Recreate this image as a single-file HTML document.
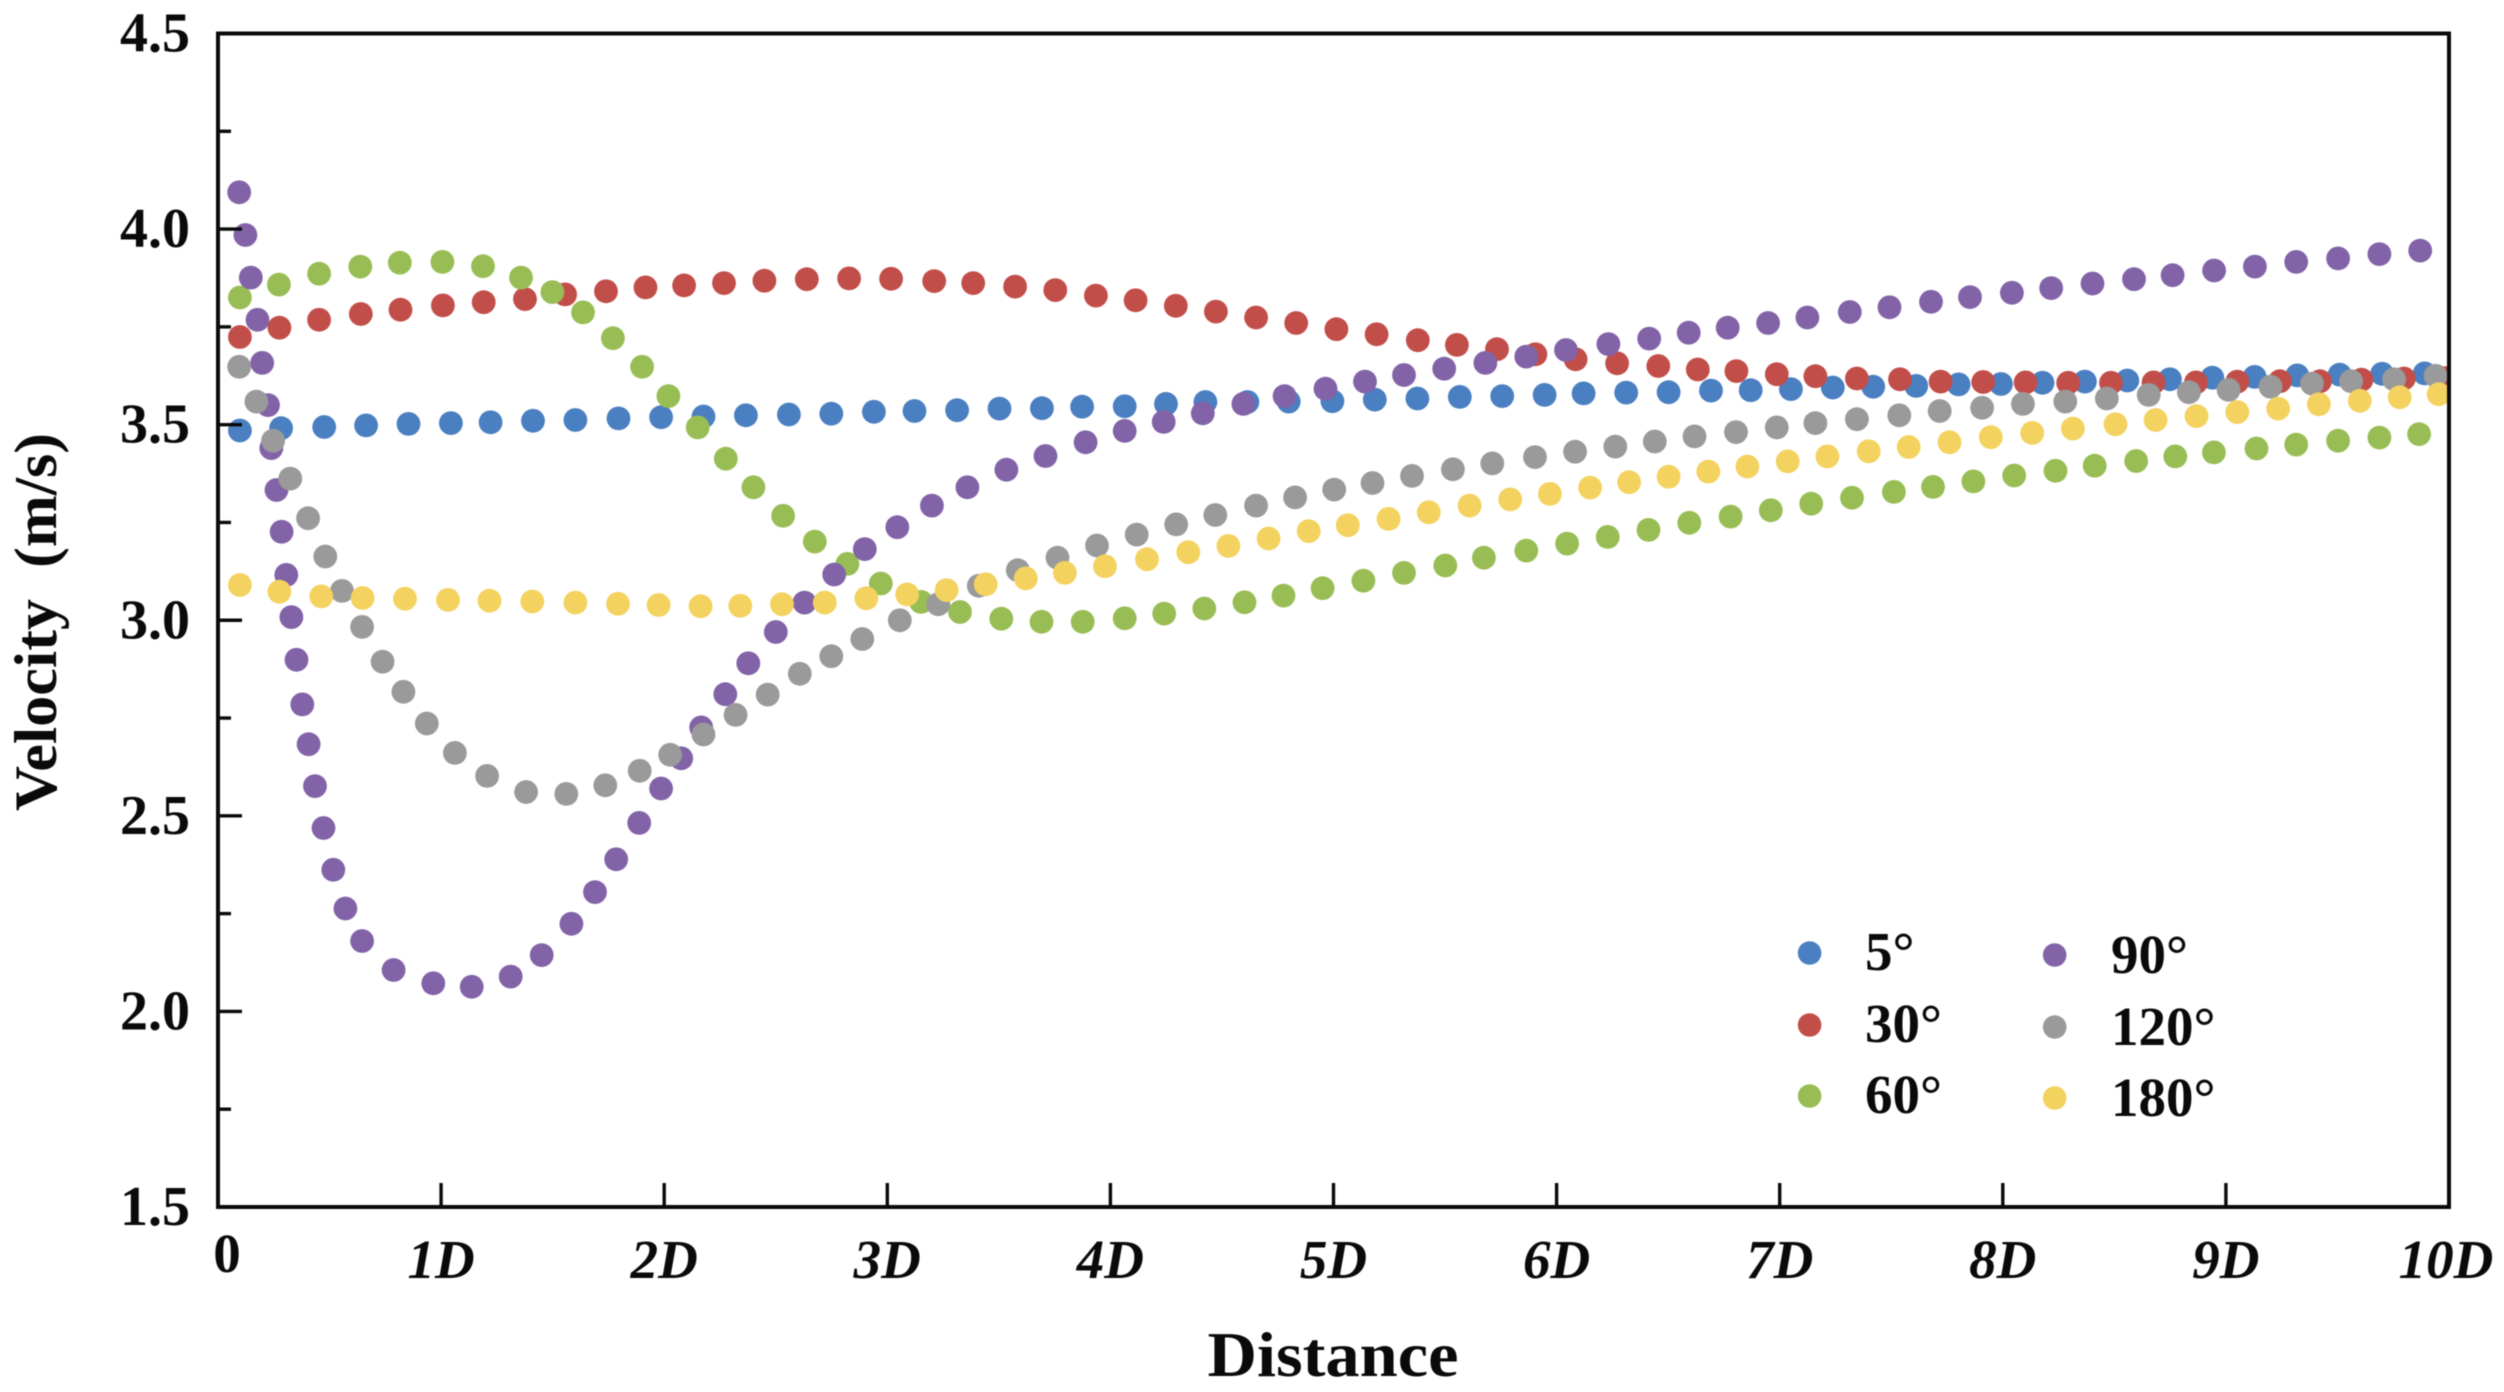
<!DOCTYPE html>
<html lang="en">
<head>
<meta charset="utf-8">
<title>Velocity vs Distance</title>
<style>
html,body{margin:0;padding:0;background:#fff;}
svg{display:block;filter:blur(0.6px);}
text{font-family:"Liberation Serif",serif;font-weight:bold;fill:#0a0a0a;}
</style>
</head>
<body>
<svg id="chart" xmlns="http://www.w3.org/2000/svg" width="2504" height="1392" viewBox="0 0 2504 1392">
<defs><clipPath id="plot-clip"><rect x="218" y="33" width="2231" height="1175"/></clipPath></defs>
<g id="series-layer" clip-path="url(#plot-clip)"></g>
<g id="axis-layer"></g>
<g id="legend-layer"></g>
<text x="0" y="0" transform="translate(56 622) rotate(-90)" text-anchor="middle" font-size="60" textLength="378" lengthAdjust="spacingAndGlyphs" xml:space="preserve">Velocity  (m/s)</text>
<text x="1333" y="1376" text-anchor="middle" font-size="64" textLength="251" lengthAdjust="spacingAndGlyphs">Distance</text>
</svg>
<script>
const xMin = 0;
const xMax = 10;
const yMin = 1.5;
const yMax = 4.5;
const yMajorTicks = [4.5, 4.0, 3.5, 3.0, 2.5, 2.0, 1.5];
const yMinorTicks = [4.25, 3.75, 3.25, 2.75, 2.25, 1.75];
const xTickValues = [0, 1, 2, 3, 4, 5, 6, 7, 8, 9, 10];
const xTickLabels = ["0", "1D", "2D", "3D", "4D", "5D", "6D", "7D", "8D", "9D", "10D"];

const distance5 = [0.098,0.283,0.476,0.664,0.854,1.044,1.222,1.412,1.602,1.795,1.986,2.176,2.366,2.559,2.749,2.940,3.122,3.313,3.503,3.693,3.873,4.064,4.249,4.426,4.614,4.799,4.995,5.185,5.376,5.566,5.756,5.946,6.121,6.312,6.502,6.692,6.870,7.050,7.238,7.419,7.612,7.802,7.992,8.178,8.368,8.558,8.749,8.939,9.129,9.320,9.510,9.700,9.891];
const velocity5 = [3.485,3.491,3.494,3.498,3.502,3.504,3.506,3.510,3.512,3.516,3.519,3.521,3.524,3.526,3.528,3.533,3.535,3.537,3.541,3.542,3.546,3.547,3.553,3.558,3.558,3.559,3.560,3.564,3.567,3.571,3.573,3.576,3.580,3.582,3.583,3.587,3.588,3.591,3.595,3.597,3.599,3.603,3.604,3.607,3.610,3.613,3.616,3.620,3.622,3.626,3.628,3.630,3.631];

const distance30 = [0.098,0.275,0.453,0.640,0.818,1.008,1.191,1.376,1.556,1.739,1.916,2.089,2.268,2.449,2.639,2.829,3.017,3.210,3.385,3.573,3.753,3.935,4.113,4.293,4.473,4.653,4.833,5.013,5.193,5.378,5.553,5.733,5.905,6.085,6.271,6.456,6.633,6.806,6.987,7.160,7.346,7.539,7.721,7.912,8.102,8.293,8.485,8.676,8.866,9.051,9.242,9.422,9.608,9.798,9.984];
const velocity30 = [3.724,3.748,3.768,3.783,3.794,3.805,3.813,3.821,3.833,3.841,3.851,3.856,3.862,3.868,3.872,3.874,3.873,3.867,3.862,3.853,3.844,3.830,3.818,3.804,3.789,3.774,3.760,3.744,3.731,3.716,3.704,3.693,3.680,3.667,3.657,3.650,3.641,3.637,3.629,3.624,3.618,3.616,3.610,3.609,3.608,3.607,3.607,3.608,3.608,3.610,3.611,3.611,3.615,3.618,3.619];

const distance60 = [0.098,0.273,0.453,0.638,0.815,1.006,1.188,1.358,1.499,1.636,1.770,1.901,2.019,2.150,2.276,2.400,2.533,2.675,2.821,2.971,3.151,3.326,3.511,3.691,3.876,4.064,4.241,4.421,4.601,4.776,4.951,5.134,5.316,5.501,5.674,5.864,6.047,6.229,6.412,6.595,6.780,6.960,7.141,7.324,7.512,7.687,7.868,8.051,8.236,8.412,8.598,8.773,8.946,9.137,9.315,9.503,9.688,9.866];
const velocity60 = [3.825,3.858,3.886,3.904,3.914,3.916,3.905,3.876,3.839,3.787,3.721,3.648,3.573,3.493,3.413,3.340,3.267,3.201,3.144,3.094,3.047,3.021,3.004,2.996,2.996,3.005,3.017,3.030,3.046,3.063,3.082,3.101,3.121,3.140,3.160,3.178,3.196,3.213,3.231,3.249,3.265,3.281,3.298,3.313,3.328,3.341,3.355,3.370,3.382,3.395,3.407,3.419,3.429,3.439,3.449,3.459,3.467,3.476];

const distance90 = [0.095,0.123,0.147,0.177,0.198,0.224,0.239,0.262,0.285,0.306,0.329,0.352,0.378,0.406,0.435,0.473,0.517,0.571,0.646,0.787,0.965,1.137,1.312,1.451,1.584,1.690,1.785,1.888,1.986,2.076,2.166,2.274,2.377,2.500,2.629,2.762,2.899,3.045,3.200,3.359,3.534,3.709,3.889,4.064,4.239,4.414,4.596,4.781,4.964,5.141,5.316,5.496,5.681,5.864,6.042,6.232,6.415,6.592,6.767,6.948,7.124,7.314,7.492,7.678,7.853,8.041,8.217,8.402,8.588,8.761,8.947,9.130,9.315,9.503,9.688,9.871];
const velocity90 = [4.094,3.985,3.876,3.768,3.658,3.550,3.440,3.333,3.226,3.116,3.008,2.899,2.785,2.683,2.576,2.469,2.362,2.263,2.180,2.106,2.072,2.063,2.089,2.144,2.224,2.305,2.389,2.482,2.570,2.647,2.726,2.811,2.890,2.970,3.045,3.117,3.182,3.238,3.293,3.340,3.385,3.420,3.455,3.484,3.507,3.529,3.553,3.573,3.592,3.610,3.627,3.643,3.658,3.674,3.691,3.706,3.720,3.735,3.748,3.760,3.774,3.788,3.800,3.814,3.826,3.837,3.849,3.861,3.872,3.882,3.894,3.904,3.916,3.925,3.936,3.945];

const distance120 = [0.095,0.172,0.247,0.324,0.404,0.481,0.556,0.646,0.738,0.831,0.936,1.062,1.206,1.381,1.561,1.736,1.890,2.027,2.176,2.320,2.464,2.608,2.749,2.888,3.056,3.228,3.410,3.585,3.763,3.940,4.118,4.295,4.470,4.653,4.828,5.003,5.175,5.352,5.535,5.712,5.903,6.083,6.263,6.440,6.618,6.804,6.987,7.160,7.346,7.536,7.717,7.907,8.090,8.280,8.466,8.654,8.834,9.012,9.200,9.386,9.561,9.754,9.940];
const velocity120 = [3.648,3.559,3.459,3.362,3.261,3.163,3.075,2.983,2.894,2.817,2.736,2.661,2.602,2.561,2.556,2.578,2.615,2.656,2.708,2.758,2.810,2.863,2.908,2.952,3.000,3.041,3.088,3.128,3.160,3.191,3.219,3.245,3.269,3.293,3.314,3.334,3.351,3.369,3.386,3.401,3.417,3.431,3.444,3.457,3.470,3.481,3.493,3.504,3.514,3.524,3.535,3.543,3.553,3.559,3.567,3.576,3.583,3.589,3.597,3.605,3.611,3.616,3.625];

const distance180 = [0.098,0.275,0.463,0.648,0.838,1.031,1.217,1.409,1.602,1.793,1.975,2.163,2.341,2.528,2.720,2.906,3.089,3.266,3.441,3.621,3.796,3.976,4.164,4.349,4.529,4.709,4.889,5.064,5.247,5.427,5.610,5.792,5.970,6.150,6.325,6.502,6.680,6.855,7.036,7.214,7.399,7.578,7.761,7.946,8.132,8.314,8.505,8.685,8.868,9.051,9.234,9.417,9.600,9.779,9.954];
const velocity180 = [3.090,3.073,3.061,3.057,3.055,3.052,3.050,3.048,3.045,3.042,3.039,3.036,3.037,3.041,3.045,3.056,3.066,3.077,3.092,3.107,3.121,3.138,3.156,3.174,3.190,3.209,3.228,3.243,3.259,3.276,3.293,3.309,3.323,3.339,3.353,3.367,3.380,3.393,3.406,3.419,3.432,3.443,3.455,3.468,3.479,3.490,3.501,3.512,3.522,3.532,3.541,3.552,3.561,3.570,3.578];

const seriesLabels = ["5°", "30°", "60°", "90°", "120°", "180°"];
const seriesDistances = [distance5, distance30, distance60, distance90, distance120, distance180];
const seriesVelocities = [velocity5, velocity30, velocity60, velocity90, velocity120, velocity180];
const seriesColors = ["#4a7fc1", "#c24e4a", "#98bd55", "#8263a8", "#9a9a9a", "#f3d25f"];

const NS = "http://www.w3.org/2000/svg";
const plotLeft = 218, plotRight = 2449, plotTop = 33.5, plotBottom = 1207;
function xScale(d) { return plotLeft + (d - xMin) / (xMax - xMin) * (plotRight - plotLeft); }
function yScale(v) { return plotTop + (yMax - v) / (yMax - yMin) * (plotBottom - plotTop); }

function make(tag, attrs, parent) {
  const el = document.createElementNS(NS, tag);
  for (const k in attrs) el.setAttribute(k, attrs[k]);
  parent.appendChild(el);
  return el;
}

const seriesLayer = document.getElementById("series-layer");
const axisLayer = document.getElementById("axis-layer");
const legendLayer = document.getElementById("legend-layer");

seriesLabels.forEach(function (label, s) {
  const group = make("g", { fill: seriesColors[s] }, seriesLayer);
  
  
  seriesDistances[s].forEach(function (d, i) {
    const dot = make("circle", { cx: xScale(d).toFixed(1), cy: yScale(seriesVelocities[s][i]).toFixed(1), r: 11.9 }, group);
    
    
  });
});

const frame = make("rect", { x: plotLeft, y: plotTop, width: plotRight - plotLeft, height: plotBottom - plotTop, fill: "none", stroke: "#0a0a0a", "stroke-width": 4 }, axisLayer);



yMajorTicks.forEach(function (v) {
  const y = yScale(v);
  if (v !== yMax && v !== yMin) {
    const tick = make("line", { x1: plotLeft, x2: plotLeft + 24, y1: y, y2: y, stroke: "#0a0a0a", "stroke-width": 3.4 }, axisLayer);
    
    
  }
  const text = make("text", { x: 190, y: y + 18, "text-anchor": "end", "font-size": 56 }, axisLayer);
  text.textContent = v.toFixed(1);
  
  
});

yMinorTicks.forEach(function (v) {
  const y = yScale(v);
  const tick = make("line", { x1: plotLeft, x2: plotLeft + 13, y1: y, y2: y, stroke: "#0a0a0a", "stroke-width": 3.4 }, axisLayer);
  
  
});

xTickValues.forEach(function (d, i) {
  const x = xScale(d);
  if (d !== xMin && d !== xMax) {
    const tick = make("line", { x1: x, x2: x, y1: plotBottom, y2: plotBottom - 24, stroke: "#0a0a0a", "stroke-width": 3.4 }, axisLayer);
    
    
  }
  const isZero = d === 0;
  const text = make("text", { x: isZero ? x + 9 : x - (d === xMax ? 3 : 0), y: isZero ? 1272 : 1278, "text-anchor": "middle", "font-size": 55, "font-style": isZero ? "normal" : "italic" }, axisLayer);
  text.textContent = xTickLabels[i];
  
  
});

const legendMarkerX = [1809.6, 2054.7];
const legendTextX = [1865, 2111];
const legendMarkerY = [953, 1025, 1096, 955, 1027, 1098];
const legendTextY = [970, 1042, 1113, 973, 1045, 1116];
seriesLabels.forEach(function (label, s) {
  const col = s < 3 ? 0 : 1;
  const entry = make("g", {}, legendLayer);
  
  
  const marker = make("circle", { cx: legendMarkerX[col], cy: legendMarkerY[s], r: 11.8, fill: seriesColors[s] }, entry);
  
  
  const text = make("text", { x: legendTextX[col], y: legendTextY[s], "font-size": 55 }, entry);
  text.textContent = label;
  
  
});
</script>
</body>
</html>
